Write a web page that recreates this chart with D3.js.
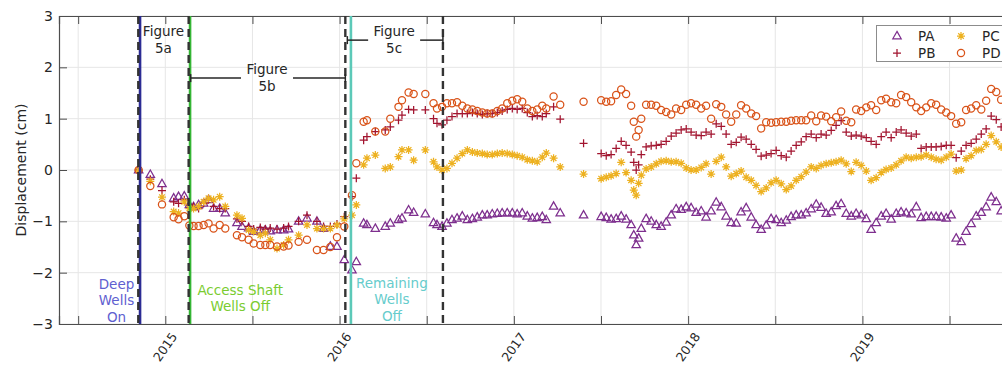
<!DOCTYPE html>
<html>
<head>
<meta charset="utf-8">
<script src="https://cdn.jsdelivr.net/npm/d3@7"></script>
<style>
  body { margin: 0; background: #fff; }
  svg text { font-family: "DejaVu Sans", sans-serif; fill: #262626; }
</style>
</head>
<body>
<script>
// ---- data (decimal years, displacement in cm) ----
var dates = [
  2014.847, 2014.914, 2014.981, 2015.048, 2015.076, 2015.109, 2015.138, 2015.162, 2015.191, 2015.220,
  2015.248, 2015.277, 2015.312, 2015.344, 2015.411, 2015.440, 2015.478, 2015.507, 2015.545, 2015.574,
  2015.602, 2015.641, 2015.679, 2015.707, 2015.765, 2015.813, 2015.870, 2015.908, 2015.947, 2015.985,
  2016.027, 2016.071, 2016.096, 2016.138, 2016.157, 2016.205, 2016.262, 2016.291, 2016.338, 2016.358,
  2016.396, 2016.425, 2016.492, 2016.539, 2016.559, 2016.588, 2016.616, 2016.645, 2016.674, 2016.704,
  2016.733, 2016.762, 2016.790, 2016.819, 2016.847, 2016.876, 2016.905, 2016.933, 2016.962, 2016.991,
  2017.019, 2017.048, 2017.077, 2017.106, 2017.134, 2017.163, 2017.186, 2017.228, 2017.266, 2017.400,
  2017.501, 2017.530, 2017.558, 2017.587, 2017.616, 2017.644, 2017.673, 2017.688, 2017.702, 2017.716, 2017.731,
  2017.759, 2017.788, 2017.817, 2017.845, 2017.874, 2017.903, 2017.931, 2017.960, 2017.989, 2018.017,
  2018.046, 2018.075, 2018.103, 2018.132, 2018.161, 2018.190, 2018.218, 2018.247, 2018.276, 2018.304,
  2018.333, 2018.362, 2018.390, 2018.419, 2018.448, 2018.476, 2018.505, 2018.534, 2018.563, 2018.591,
  2018.620, 2018.649, 2018.677, 2018.706, 2018.735, 2018.763, 2018.792, 2018.821, 2018.849, 2018.878,
  2018.907, 2018.936, 2018.964, 2018.993, 2019.022, 2019.050, 2019.079, 2019.108, 2019.136, 2019.165,
  2019.194, 2019.222, 2019.251, 2019.280, 2019.309, 2019.337, 2019.366, 2019.395, 2019.423, 2019.452,
  2019.481, 2019.509, 2019.538, 2019.567, 2019.595, 2019.624, 2019.653, 2019.682, 2019.710, 2019.739,
  2019.768, 2019.796
];

var PA = [
  0, -0.09, -0.27, -0.55, -0.52, -0.51, -0.68, -0.72, -0.68, -0.65,
  -0.58, -0.75, -0.75, -0.84, -1.03, -1.10, -1.13, -1.20, -1.17, -1.17,
  -1.19, -1.17, -1.17, -1.15, -1.00, -0.94, -1.00, -1.14, -1.49, -1.49,
  -1.75, -1.95, -1.79, -1.04, -1.07, -1.14, -1.10, -1.04, -0.97, -0.94,
  -0.78, -0.83, -0.86, -1.03, -1.07, -1.10, -1.04, -0.97, -0.94, -0.90,
  -0.97, -0.95, -0.92, -0.88, -0.88, -0.86, -0.85, -0.84, -0.84, -0.84,
  -0.86, -0.84, -0.90, -0.94, -0.93, -0.91, -0.97, -0.71, -0.84, -0.88,
  -0.91, -0.93, -0.96, -0.95, -0.90, -0.96, -1.07, -1.27, -1.46, -1.33, -1.14,
  -0.95, -1.00, -1.07, -1.10, -1.02, -0.88, -0.76, -0.77, -0.72, -0.74,
  -0.83, -0.80, -0.92, -0.80, -0.63, -0.72, -0.90, -1.03, -1.04, -0.82,
  -0.74, -0.92, -1.07, -1.16, -1.08, -0.95, -0.97, -1.03, -0.98, -0.91,
  -0.88, -0.88, -0.84, -0.76, -0.67, -0.73, -0.85, -0.82, -0.70, -0.66,
  -0.85, -0.90, -0.85, -0.88, -0.95, -1.16, -1.03, -0.90, -0.85, -0.96,
  -0.85, -0.82, -0.84, -0.86, -0.72, -0.93, -0.91, -0.91, -0.91, -0.92,
  -0.94, -0.88, -1.33, -1.40, -1.20, -1.05, -0.90, -0.83, -0.72, -0.53,
  -0.62, -0.80
];

var PB = [
  0, -0.18, -0.40, -0.62, -0.65, -0.58, -0.68, -0.71, -0.75, -0.65,
  -0.58, -0.71, -0.75, -0.75, -0.95, -1.00, -1.10, -1.15, -1.12, -1.15,
  -1.13, -1.15, -1.13, -1.10, -1.00, -0.88, -1.00, -1.10, -1.10, -1.05,
  -0.91, -0.52, -0.16, 0.58, 0.65, 0.75, 0.78, 0.84, 0.97, 1.07,
  1.18, 1.17, 1.17, 1.00, 0.91, 0.88, 0.97, 1.04, 1.10, 1.10,
  1.10, 1.12, 1.10, 1.08, 1.10, 1.10, 1.12, 1.15, 1.18, 1.20,
  1.18, 1.20, 1.12, 1.04, 1.06, 1.04, 1.10, 1.23, 0.99, 0.52,
  0.32, 0.28, 0.30, 0.42, 0.56, 0.48, 0.35, 0.15, 0.00, 0.10, 0.30,
  0.45, 0.47, 0.48, 0.50, 0.56, 0.66, 0.72, 0.78, 0.80, 0.74,
  0.68, 0.67, 0.74, 0.70, 0.90, 0.85, 0.70, 0.50, 0.54, 0.64,
  0.60, 0.50, 0.40, 0.27, 0.29, 0.32, 0.38, 0.28, 0.25, 0.37,
  0.48, 0.55, 0.65, 0.70, 0.63, 0.70, 0.68, 0.77, 0.87, 0.96,
  0.74, 0.66, 0.68, 0.66, 0.63, 0.56, 0.50, 0.65, 0.74, 0.63,
  0.74, 0.78, 0.72, 0.66, 0.70, 0.42, 0.45, 0.45, 0.45, 0.46,
  0.48, 0.48, 0.24, 0.37, 0.48, 0.52, 0.60, 0.70, 0.80, 1.05,
  0.98, 0.84
];

var PC = [
  0, -0.22, -0.53, -0.81, -0.84, -0.62, -0.75, -0.75, -0.71, -0.62,
  -0.55, -0.58, -0.52, -0.71, -0.88, -0.94, -1.17, -1.20, -1.27, -1.23,
  -1.36, -1.53, -1.46, -1.36, -1.27, -1.07, -1.14, -1.14, -1.14, -1.07,
  -0.95, -0.88, -0.68, 0.10, 0.23, 0.29, 0.03, 0.06, 0.26, 0.39,
  0.39, 0.19, 0.39, 0.16, 0.06, 0.00, 0.03, 0.13, 0.23, 0.32,
  0.39, 0.35, 0.33, 0.32, 0.30, 0.30, 0.32, 0.33, 0.32, 0.30,
  0.28, 0.25, 0.20, 0.18, 0.16, 0.25, 0.33, 0.23, 0.06, -0.08,
  -0.17, -0.14, -0.11, -0.07, 0.15, -0.05, -0.20, -0.39, -0.49, -0.26, -0.10,
  0.02, 0.06, 0.12, 0.17, 0.18, 0.16, 0.16, 0.13, 0.04, 0.00,
  0.00, 0.05, 0.12, -0.08, 0.17, 0.25, 0.06, -0.12, -0.07, -0.02,
  -0.14, -0.20, -0.30, -0.42, -0.35, -0.25, -0.20, -0.27, -0.38, -0.31,
  -0.20, -0.13, -0.04, 0.06, 0.03, 0.09, 0.12, 0.14, 0.16, 0.19,
  0.12, -0.03, 0.15, 0.09, -0.02, -0.20, -0.15, -0.05, 0.01, 0.04,
  0.10, 0.18, 0.25, 0.23, 0.25, 0.26, 0.29, 0.25, 0.21, 0.19,
  0.25, 0.31, -0.02, 0.00, 0.22, 0.28, 0.38, 0.40, 0.50, 0.67,
  0.55, 0.45
];

var PD = [
  0, -0.31, -0.67, -0.92, -0.96, -0.90, -1.08, -1.09, -1.09, -1.07,
  -1.04, -1.14, -1.07, -1.14, -1.27, -1.31, -1.36, -1.43, -1.46, -1.46,
  -1.46, -1.49, -1.49, -1.47, -1.40, -1.36, -1.56, -1.56, -1.50, -1.31,
  -1.10, -0.49, 0.13, 0.94, 0.97, 0.75, 0.75, 1.00, 1.23, 1.36,
  1.51, 1.48, 1.48, 1.30, 1.20, 1.23, 1.30, 1.30, 1.32, 1.25,
  1.20, 1.18, 1.15, 1.12, 1.10, 1.10, 1.15, 1.20, 1.30, 1.35,
  1.38, 1.33, 1.20, 1.15, 1.18, 1.25, 1.20, 1.43, 1.27, 1.33,
  1.36, 1.33, 1.34, 1.46, 1.57, 1.48, 1.25, 0.94, 0.65, 0.78, 1.00,
  1.27, 1.27, 1.25, 1.17, 1.13, 1.08, 1.20, 1.17, 1.27, 1.30,
  1.27, 1.20, 1.25, 1.00, 1.28, 1.23, 1.08, 0.94, 1.08, 1.26,
  1.20, 1.10, 1.05, 0.81, 0.93, 0.92, 0.93, 0.94, 0.94, 0.96,
  0.97, 0.97, 0.97, 1.06, 0.95, 1.06, 1.04, 0.95, 1.03, 1.14,
  0.96, 0.93, 1.18, 1.15, 1.22, 1.26, 1.17, 1.36, 1.39, 1.32,
  1.30, 1.46, 1.42, 1.32, 1.22, 1.15, 1.22, 1.30, 1.27, 1.18,
  1.12, 1.05, 0.90, 0.93, 1.17, 1.20, 1.26, 1.18, 1.35, 1.58,
  1.52, 1.37
];

var seriesNames = ["PA", "PB", "PC", "PD"];

// axis ticks
var xTicks = [2014.5, 2015, 2015.5, 2016, 2016.5, 2017, 2017.5, 2018, 2018.5, 2019, 2019.5];
var yearLabels = [2015, 2016, 2017, 2018, 2019];
var yTicks = [-3, -2, -1, 0, 1, 2, 3];

// event lines (decimal years)
var figureBounds = [2014.845, 2015.134, 2016.033, 2016.593];
var eventDates = [2014.855, 2015.142, 2016.065];
var eventLabels = [["Deep", "Wells", "On"], ["Access Shaft", "Wells Off"], ["Remaining", "Wells", "Off"]];
var figureLabels = ["5a", "5b", "5c"];

// ---- chart params ----
var svgWidth = 1002;
var svgHeight = 366;
var plot = { left: 59, right: 1021, top: 16, bottom: 324 };

var colors = { PA: "#7E2F8E", PB: "#A2142F", PC: "#EDB120", PD: "#D95319" };
var eventColors = ["#2b2b94", "#35b535", "#5cc9b8"];
var eventTextColors = ["#6060d0", "#7acc30", "#66cccc"];

var svg = d3.select("body").append("svg")
    .attr("width", svgWidth)
    .attr("height", svgHeight);

var xScale = d3.scaleLinear().domain([2014.39, 2019.91]).range([plot.left, plot.right]);
var yScale = d3.scaleLinear().domain([-3, 3]).range([plot.bottom, plot.top]);

svg.append("defs").append("clipPath").attr("id", "clip")
  .append("rect")
    .attr("x", plot.left).attr("y", plot.top)
    .attr("width", plot.right - plot.left).attr("height", plot.bottom - plot.top);

// grid
var grid = svg.append("g");
grid.selectAll(".gx").data(xTicks).enter().append("line")
    .attr("x1", d => xScale(d)).attr("x2", d => xScale(d))
    .attr("y1", plot.top).attr("y2", plot.bottom)
    .attr("stroke", "#e6e6e6").attr("stroke-width", 1);
grid.selectAll(".gy").data(yTicks).enter().append("line")
    .attr("x1", plot.left).attr("x2", plot.right)
    .attr("y1", d => yScale(d)).attr("y2", d => yScale(d))
    .attr("stroke", "#e6e6e6").attr("stroke-width", 1);

// axes (inward ticks, matlab style)
var bottomAxis = d3.axisBottom(xScale).tickValues(xTicks).tickSize(-8).tickFormat("");
var topAxis = d3.axisTop(xScale).tickValues(xTicks).tickSize(-8).tickFormat("");
var leftAxis = d3.axisLeft(yScale).tickValues(yTicks).tickSize(-8).tickPadding(6).tickFormat(d3.format("d"));

var gb = svg.append("g").attr("transform", `translate(0, ${plot.bottom})`).call(bottomAxis);
var gt = svg.append("g").attr("transform", `translate(0, ${plot.top})`).call(topAxis);
var gl = svg.append("g").attr("transform", `translate(${plot.left}, 0)`).call(leftAxis);
[gb, gt, gl].forEach(function (g) {
    g.select(".domain").attr("stroke", "#4d4d4d").attr("stroke-width", 1.2);
    g.selectAll(".tick line").attr("stroke", "#4d4d4d");
});
gl.selectAll("text").style("font-size", "14px").attr("fill", "#262626")
    .style("font-family", "DejaVu Sans, sans-serif");

// rotated year labels
svg.selectAll(".yearLabel").data(yearLabels).enter().append("text")
    .attr("transform", d => `translate(${xScale(d) + 9}, ${plot.bottom + 10}) rotate(-55)`)
    .attr("text-anchor", "end")
    .attr("dy", "0.35em")
    .style("font-size", "12.5px")
    .text(d => d);

// y label
svg.append("text")
    .attr("transform", `translate(21, ${(plot.top + plot.bottom) / 2}) rotate(-90)`)
    .attr("text-anchor", "middle")
    .attr("dy", "0.35em")
    .style("font-size", "14px")
    .text("Displacement (cm)");

// markers
function markerPath(name) {
    if (name === "PA") return "M0,-4.6L4.2,2.8L-4.2,2.8Z";
    if (name === "PB") return "M-4,0H4M0,-4V4";
    if (name === "PC") return "M-4,0H4M0,-4V4M-2.8,-2.8L2.8,2.8M-2.8,2.8L2.8,-2.8";
    return null;
}
function drawMarker(g, name, x, y) {
    if (name === "PD") {
        g.append("circle").attr("cx", x).attr("cy", y).attr("r", 3.6)
            .attr("fill", "none").attr("stroke", colors[name]).attr("stroke-width", 1.25);
    } else {
        g.append("path").attr("d", markerPath(name))
            .attr("transform", `translate(${x},${y})`)
            .attr("fill", "none").attr("stroke", colors[name]).attr("stroke-width", 1.25);
    }
}

var seriesData = { PA: PA, PB: PB, PC: PC, PD: PD };
var dataGroup = svg.append("g").attr("clip-path", "url(#clip)");
seriesNames.forEach(function (name) {
    var vals = seriesData[name];
    var g = dataGroup.append("g");
    dates.forEach(function (d, i) {
        if (vals[i] == null) return;
        drawMarker(g, name, xScale(d), yScale(vals[i]));
    });
});

// event lines
var lines = svg.append("g").attr("clip-path", "url(#clip)");
eventDates.forEach(function (d, i) {
    lines.append("line")
        .attr("x1", xScale(d)).attr("x2", xScale(d))
        .attr("y1", plot.top).attr("y2", plot.bottom)
        .attr("stroke", eventColors[i]).attr("stroke-width", 2.6);
});
figureBounds.forEach(function (d) {
    lines.append("line")
        .attr("x1", xScale(d)).attr("x2", xScale(d))
        .attr("y1", plot.top).attr("y2", plot.bottom)
        .attr("stroke", "#333").attr("stroke-width", 2.4)
        .attr("stroke-dasharray", "8,5");
});

// event labels at the bottom
var eventLabelX = [2014.72, 2015.43, 2016.3];
var eventLabelTop = [-2.22, -2.34, -2.2];
eventLabels.forEach(function (lbls, i) {
    lbls.forEach(function (t, j) {
        svg.append("text")
            .attr("x", xScale(eventLabelX[i]))
            .attr("y", yScale(eventLabelTop[i]) + j * 16.5)
            .attr("dy", "0.35em")
            .attr("text-anchor", "middle")
            .style("font-size", "13.5px")
            .style("fill", eventTextColors[i])
            .text(t);
    });
});

// figure brackets
var bracketY = [null, 1.79, 2.53];
var labelY = [2.53, 1.79, 2.53];
figureLabels.forEach(function (lbl, i) {
    var x0 = xScale(figureBounds[i]), x1 = xScale(figureBounds[i + 1]);
    var xm = (x0 + x1) / 2;
    var ym = yScale(labelY[i]);
    if (bracketY[i] != null) {
        var yb = yScale(bracketY[i]);
        var gap = 26;
        var b = svg.append("g").attr("stroke", "#262626").attr("stroke-width", 1.5);
        b.append("line").attr("x1", x0 + 2).attr("x2", xm - gap).attr("y1", yb).attr("y2", yb);
        b.append("line").attr("x1", xm + gap).attr("x2", x1).attr("y1", yb).attr("y2", yb);
        b.append("line").attr("x1", x0 + 2).attr("x2", x0 + 2).attr("y1", yb - 4).attr("y2", yb + 4);
        b.append("line").attr("x1", x1).attr("x2", x1).attr("y1", yb - 4).attr("y2", yb + 4);
    }
    svg.append("text").attr("x", xm).attr("y", ym - 9).attr("dy", "0.35em")
        .attr("text-anchor", "middle").style("font-size", "13.5px").text("Figure");
    svg.append("text").attr("x", xm).attr("y", ym + 8).attr("dy", "0.35em")
        .attr("text-anchor", "middle").style("font-size", "13.5px").text(lbl);
});

// legend
var legend = svg.append("g");
legend.append("rect")
    .attr("x", 876.5).attr("y", 25.5).attr("width", 150).attr("height", 36)
    .attr("fill", "#fff").attr("stroke", "#8c8c8c").attr("stroke-width", 1);
var legendPos = [[897, 36], [897, 53], [961, 36], [961, 53]];
seriesNames.forEach(function (name, i) {
    drawMarker(legend, name, legendPos[i][0], legendPos[i][1]);
    legend.append("text")
        .attr("x", legendPos[i][0] + 21).attr("y", legendPos[i][1])
        .attr("dy", "0.35em")
        .style("font-size", "13.5px")
        .text(name);
});
</script>
</body>
</html>
